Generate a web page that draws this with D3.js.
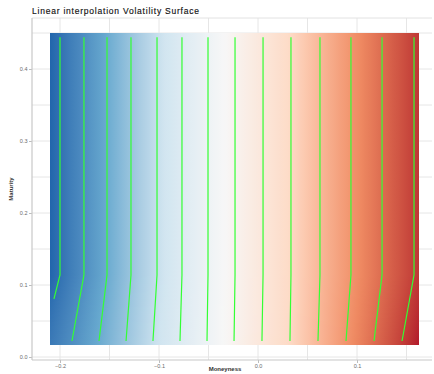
<!DOCTYPE html>
<html lang="en">
<head>
<meta charset="utf-8" />
<title>Linear interpolation Volatility Surface</title>
<script src="https://d3js.org/d3.v7.min.js"></script>
<style>
  body { margin: 0; background: #fff; }
  svg { display: block; font-family: "Liberation Sans", Arial, sans-serif; }
  .axis text { fill: #6b6b6b; font-size: 5.5px; }
  .axis line { stroke: #bdbdbd; }
</style>
</head>
<body>
<script>
// axis ticks
const moneyTicks = [-0.2, -0.1, 0.0, 0.1];
const moneyMinor = [-0.15, -0.05, 0.05, 0.15];
const maturityTicks = [0.0, 0.1, 0.2, 0.3, 0.4];
const maturityMinor = [0.05, 0.15, 0.25, 0.35, 0.45];

// extent of the interpolated surface
const surfaceMoney = [-0.2101, 0.1626];
const surfaceMaturity = [0.0167, 0.45];

// contour lines: vertical above the bend, slanted below it
const contourTopMaturity = 0.444;
const bendMaturity = 0.114;
const contourTopMoney = [-0.2000, -0.1758, -0.1525, -0.1283, -0.1020, -0.0768, -0.0505,
                         -0.0232, 0.0051, 0.0333, 0.0626, 0.0939, 0.1253, 0.1576];
const contourBottomMoney = [-0.2061, -0.1879, -0.1606, -0.1333, -0.1061, -0.0788, -0.0515,
                            -0.0242, 0.0040, 0.0323, 0.0606, 0.0889, 0.1172, 0.1455];
const contourBottomMaturity = [0.0806, 0.0222, 0.0222, 0.0222, 0.0222, 0.0222, 0.0222,
                               0.0222, 0.0222, 0.0222, 0.0222, 0.0222, 0.0222, 0.0222];

// RdBu (reversed: blue = low vol)
const palette = ["#2166AC", "#67A9CF", "#D1E5F0", "#F7F7F7", "#FDDBC7", "#EF8A62", "#B2182B"];

const W = 434, H = 374;
const panel = { left: 32, right: 432, top: 18, bottom: 360 };

const x = d3.scaleLinear().domain([-0.2, 0.1]).range([60, 357]);
const y = d3.scaleLinear().domain([0, 0.4]).range([357, 69]);

const svg = d3.select("body").append("svg").attr("width", W).attr("height", H);

// grid
const grid = svg.append("g");
grid.selectAll("line.vx")
  .data(moneyTicks.concat(moneyMinor))
  .join("line")
  .attr("x1", d => x(d)).attr("x2", d => x(d))
  .attr("y1", panel.top).attr("y2", panel.bottom)
  .attr("stroke", "#e6e6e6").attr("stroke-width", 1);
grid.selectAll("line.hy")
  .data(maturityTicks.concat(maturityMinor))
  .join("line")
  .attr("x1", panel.left).attr("x2", panel.right)
  .attr("y1", d => y(d)).attr("y2", d => y(d))
  .attr("stroke", "#e6e6e6").attr("stroke-width", 1);
grid.append("line")
  .attr("x1", panel.left).attr("x2", panel.right)
  .attr("y1", panel.top).attr("y2", panel.top)
  .attr("stroke", "#e2e2e2");

// where contour k crosses maturity t
function contourAt(k, t) {
  if (t >= bendMaturity) return contourTopMoney[k];
  const f = (bendMaturity - t) / (bendMaturity - contourBottomMaturity[k]);
  return contourTopMoney[k] + f * (contourBottomMoney[k] - contourTopMoney[k]);
}
// level (contour index, fractional) at moneyness m, maturity t
function levelAt(m, t) {
  const p = contourTopMoney.map((_, k) => contourAt(k, t));
  const n = p.length;
  if (m <= p[0]) return (m - p[0]) / (p[1] - p[0]);
  if (m >= p[n - 1]) return n - 1 + (m - p[n - 1]) / (p[n - 1] - p[n - 2]);
  const i = d3.bisectRight(p, m) - 1;
  return i + (m - p[i]) / (p[i + 1] - p[i]);
}

// fill rows: one per screen pixel below the bend, one uniform block above it
const yTop = Math.round(y(surfaceMaturity[1]));
const yBend = Math.round(y(bendMaturity));
const yBot = Math.round(y(surfaceMaturity[0]));
const rows = [{ py: yTop, h: yBend - yTop + 1, tm: bendMaturity }];
for (let py = yBend; py < yBot; py++) {
  rows.push({ py, h: 1, tm: y.invert(py + 0.5) });
}

const nStops = 90;
const stopMoney = d3.range(nStops + 1).map(i => surfaceMoney[0] + (surfaceMoney[1] - surfaceMoney[0]) * i / nStops);
const allLevels = rows.flatMap(r => stopMoney.map(m => levelAt(m, r.tm)));
const color = d3.scaleSequential(d3.piecewise(d3.interpolateLab, palette))
  .domain(d3.extent(allLevels));

const defs = svg.append("defs");
const grads = defs.selectAll("linearGradient")
  .data(rows)
  .join("linearGradient")
  .attr("id", (d, i) => "row" + i)
  .attr("x1", "0%").attr("x2", "100%").attr("y1", "0%").attr("y2", "0%");
grads.selectAll("stop")
  .data(r => stopMoney.map(m => ({ m, c: color(levelAt(m, r.tm)) })))
  .join("stop")
  .attr("offset", d => (d.m - surfaceMoney[0]) / (surfaceMoney[1] - surfaceMoney[0]))
  .attr("stop-color", d => d.c);

svg.append("g").attr("shape-rendering", "crispEdges").selectAll("rect")
  .data(rows)
  .join("rect")
  .attr("x", Math.round(x(surfaceMoney[0])))
  .attr("width", Math.round(x(surfaceMoney[1]) - x(surfaceMoney[0])))
  .attr("y", d => d.py)
  .attr("height", d => d.h)
  .attr("fill", (d, i) => `url(#row${i})`);

// contours
const line = d3.line().x(d => x(d[0])).y(d => y(d[1]));
svg.append("g").selectAll("path")
  .data(contourTopMoney.map((m, k) => [
    [m, contourTopMaturity], [m, bendMaturity],
    [contourBottomMoney[k], contourBottomMaturity[k]]]))
  .join("path")
  .attr("d", line)
  .attr("fill", "none")
  .attr("stroke", "#33ff33")
  .attr("stroke-width", 1.2);

// axes
const fmt = d3.format(".1f");
svg.append("g").attr("class", "axis")
  .attr("transform", `translate(0,${panel.bottom})`)
  .call(d3.axisBottom(x).tickValues(moneyTicks).tickFormat(fmt).tickSize(3).tickPadding(1))
  .call(g => g.select(".domain").remove());
svg.append("g").attr("class", "axis")
  .attr("transform", `translate(${panel.left},0)`)
  .call(d3.axisLeft(y).tickValues(maturityTicks).tickFormat(fmt).tickSize(3).tickPadding(1.5))
  .call(g => g.select(".domain").remove());

svg.append("line")
  .attr("x1", panel.left).attr("x2", panel.right)
  .attr("y1", panel.bottom).attr("y2", panel.bottom)
  .attr("stroke", "#c8c8c8").attr("stroke-width", 1.2);
svg.append("line")
  .attr("x1", panel.left).attr("x2", panel.left)
  .attr("y1", panel.top).attr("y2", panel.bottom)
  .attr("stroke", "#c8c8c8").attr("stroke-width", 1.2);

// titles
svg.append("text")
  .attr("x", 32).attr("y", 14)
  .attr("textLength", 167)
  .attr("font-size", 8.5).attr("fill", "#111")
  .attr("stroke", "#111").attr("stroke-width", 0.15)
  .text("Linear interpolation Volatility Surface");
svg.append("text")
  .attr("x", 225).attr("y", 371)
  .attr("text-anchor", "middle")
  .attr("font-size", 6).attr("font-weight", "bold").attr("fill", "#333")
  .text("Moneyness");
svg.append("text")
  .attr("transform", `translate(13,${(panel.top + panel.bottom) / 2}) rotate(-90)`)
  .attr("text-anchor", "middle")
  .attr("font-size", 6).attr("font-weight", "bold").attr("fill", "#333")
  .text("Maturity");
</script>
</body>
</html>
